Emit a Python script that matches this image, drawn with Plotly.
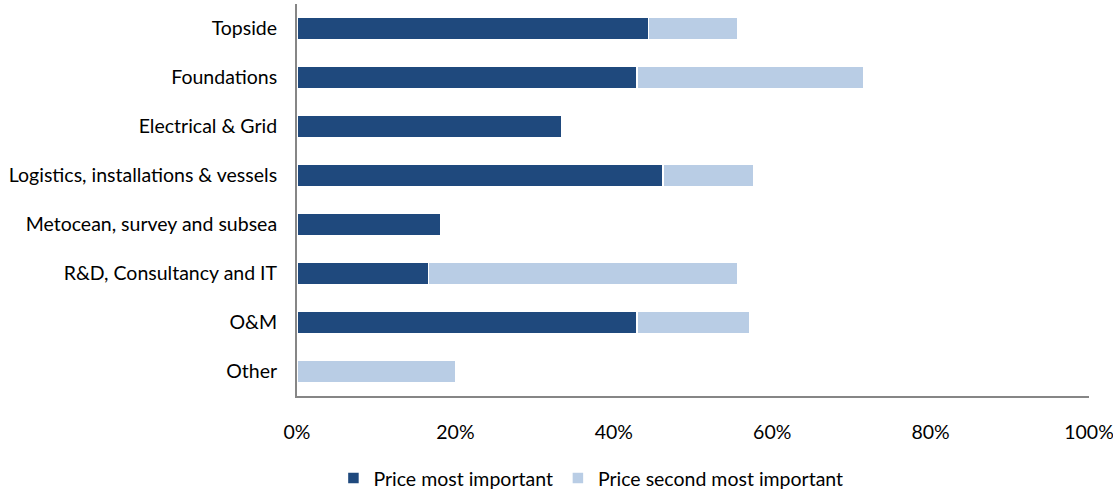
import plotly.graph_objects as go

categories = ["Topside", "Foundations", "Electrical & Grid", "Logistics, installations & vessels",
              "Metocean, survey and subsea", "R&D, Consultancy and IT", "O&M", "Other"]
most_important = [44.4, 42.9, 33.4, 46.2, 18.2, 16.6, 42.9, 0]
second_important = [11.2, 28.6, 0, 11.5, 0, 39.0, 14.3, 20.0]
x_ticks = [0, 20, 40, 60, 80, 100]
x_tick_labels = ["0%", "20%", "40%", "60%", "80%", "100%"]

FONT = "Lato, 'Open Sans', sans-serif"
font = dict(family=FONT, size=19.5, color="#000000")

fig = go.Figure()
fig.add_trace(go.Bar(
    y=categories, x=most_important, orientation="h",
    name="Price most important",
    marker=dict(color="#1F497D", line=dict(color="#FFFFFF", width=1.5)),
))
fig.add_trace(go.Bar(
    y=categories, x=second_important, orientation="h",
    name="Price second most important",
    marker=dict(color="#B9CDE5", line=dict(color="#FFFFFF", width=1.5)),
))

fig.update_layout(
    barmode="stack",
    bargap=0.53,
    width=1113, height=490,
    margin=dict(l=297, r=24, t=4, b=94, autoexpand=False),
    paper_bgcolor="white", plot_bgcolor="white",
    font=font,
    showlegend=True,
    legend=dict(orientation="h", x=0.046, xanchor="left", y=-0.21, yanchor="middle",
                font=font, itemwidth=30, tracegroupgap=0, traceorder="normal"),
    xaxis=dict(range=[0, 100], tickvals=x_ticks, ticktext=x_tick_labels, automargin=False,
               showgrid=False, zeroline=False, showline=True, linecolor="#868686", linewidth=2,
               ticks="", ticklabelstandoff=18, ticklabeloverflow="allow"),
    yaxis=dict(categoryorder="array", categoryarray=categories, autorange="reversed", automargin=False,
               showgrid=False, zeroline=False, showline=True, linecolor="#868686", linewidth=2,
               ticks="", ticklabelstandoff=14),
)

fig.write_html("out.html")
